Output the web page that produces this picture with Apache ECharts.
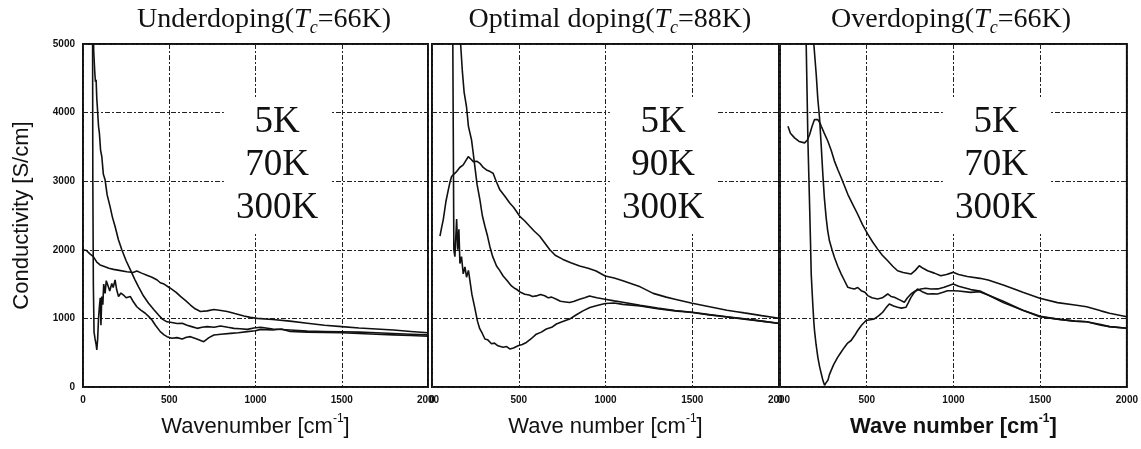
<!DOCTYPE html>
<html>
<head>
<meta charset="utf-8">
<script src="https://cdn.jsdelivr.net/npm/echarts@6/dist/echarts.min.js"></script>
<style>html,body{margin:0;padding:0;background:#fff}#c{width:1141px;height:449px}</style>
</head>
<body>
<div id="c"></div>
<script>
// ---------- DATA (wavenumber cm^-1, conductivity S/cm) ----------
const xTicks = [0, 500, 1000, 1500, 2000];
const yTicks = [0, 1000, 2000, 3000, 4000, 5000];
const panelTitles = ['Underdoping', 'Optimal doping', 'Overdoping'];
const panelTc = ['66K', '88K', '66K'];
const panelTemps = [['5K', '70K', '300K'], ['5K', '90K', '300K'], ['5K', '70K', '300K']];
const xAxisNames = ['Wavenumber', 'Wave number', 'Wave number'];

const under_5K = [[55,6000],[57,3000],[60,1500],[64,800],[70,700],[76,620],[80,540],[85,700],[90,1000],[95,1170],[100,1300],[104,900],[109,1320],[115,1200],[120,1500],[128,1365],[135,1550],[147,1463],[155,1400],[167,1510],[175,1450],[186,1560],[195,1420],[206,1320],[220,1370],[235,1340],[250,1300],[274,1320],[290,1250],[312,1170],[335,1120],[361,1075],[380,1030],[400,977],[420,900],[448,807],[470,760],[487,734],[515,710],[545,720],[575,700],[600,725],[623,734],[660,700],[700,660],[730,720],[759,758],[800,770],[855,782],[900,790],[953,807],[1000,820],[1030,840],[1100,830],[1150,845],[1200,810],[1300,800],[1400,795],[1500,790],[1600,780],[1700,770],[1800,760],[1900,750],[2000,740]];
const under_70K = [[58,5600],[62,4900],[68,4600],[72,4450],[76,4480],[80,4200],[83,4090],[90,3800],[95,3700],[102,3450],[109,3360],[118,3100],[128,3020],[140,2800],[157,2630],[170,2480],[186,2340],[205,2150],[225,2000],[250,1840],[274,1710],[300,1570],[322,1460],[350,1330],[380,1220],[410,1130],[438,1050],[460,990],[487,950],[515,940],[545,925],[575,930],[603,900],[630,880],[662,855],[690,870],[720,880],[760,870],[797,890],[840,870],[875,855],[910,850],[953,840],[990,860],[1030,870],[1100,845],[1200,830],[1300,815],[1400,810],[1500,805],[1600,800],[1700,790],[1800,780],[1900,770],[2000,760]];
const under_300K = [[0,2000],[20,1990],[40,1940],[60,1900],[80,1820],[99,1780],[120,1760],[150,1730],[177,1715],[210,1700],[254,1680],[290,1670],[312,1690],[340,1660],[370,1630],[400,1600],[430,1560],[448,1520],[470,1500],[506,1440],[540,1380],[565,1320],[595,1260],[623,1195],[650,1140],[681,1100],[720,1110],[759,1130],[800,1115],[836,1100],[880,1070],[933,1035],[970,1015],[1010,1000],[1100,985],[1200,960],[1300,930],[1400,900],[1500,880],[1600,860],[1700,845],[1800,830],[1900,810],[2000,790]];

const opt_5K = [[118,6000],[122,4000],[126,2000],[132,1900],[142,2450],[148,2000],[155,2300],[161,1800],[170,1900],[180,1650],[190,1750],[199,1600],[210,1700],[218,1560],[230,1350],[247,1150],[262,960],[275,850],[290,780],[305,700],[320,690],[343,630],[360,640],[380,600],[391,604],[410,580],[430,590],[448,555],[470,570],[496,600],[520,620],[544,650],[570,700],[601,770],[630,800],[659,845],[690,870],[717,918],[750,950],[793,990],[830,1050],[870,1110],[910,1160],[946,1185],[998,1217],[1050,1225],[1100,1205],[1200,1180],[1300,1140],[1400,1110],[1500,1085],[1600,1050],[1700,1020],[1800,990],[1900,960],[2000,930]];
const opt_90K = [[160,6000],[165,5000],[175,4600],[185,4300],[199,4082],[210,3800],[228,3600],[238,3400],[247,3213],[260,2950],[276,2730],[290,2500],[305,2343],[320,2200],[333,2053],[350,1900],[372,1763],[390,1700],[410,1618],[430,1560],[458,1473],[475,1440],[487,1425],[510,1380],[535,1353],[560,1340],[580,1320],[601,1328],[625,1350],[650,1330],[670,1300],[690,1310],[717,1280],[740,1250],[770,1240],[793,1232],[820,1250],[851,1280],[880,1300],[908,1328],[950,1300],[998,1280],[1050,1255],[1100,1235],[1200,1190],[1300,1150],[1400,1115],[1500,1090],[1600,1055],[1700,1025],[1800,995],[1900,960],[2000,925]];
const opt_300K = [[46,2200],[55,2320],[65,2440],[80,2700],[94,2874],[105,3000],[113,3068],[125,3100],[142,3140],[160,3200],[180,3237],[195,3300],[209,3357],[225,3320],[238,3285],[260,3290],[276,3261],[295,3200],[314,3164],[335,3140],[352,3116],[370,3000],[391,2874],[420,2780],[448,2681],[470,2620],[506,2488],[535,2420],[563,2343],[590,2270],[621,2198],[650,2100],[678,2005],[710,1920],[755,1860],[800,1810],[851,1763],[900,1730],[946,1691],[998,1618],[1050,1590],[1100,1550],[1200,1460],[1275,1365],[1350,1310],[1400,1280],[1500,1220],[1600,1170],[1700,1120],[1756,1098],[1800,1080],[1900,1040],[2000,1001]];

const over_5K = [[148,6000],[151,5000],[156,4300],[161,3583],[166,3100],[171,2615],[176,2100],[180,1646],[185,1400],[190,1162],[195,950],[199,823],[208,620],[218,436],[228,300],[238,194],[248,90],[257,24],[265,60],[276,97],[285,180],[295,242],[310,330],[333,436],[350,500],[372,581],[390,640],[410,678],[430,750],[448,823],[470,900],[496,969],[520,980],[544,993],[570,1040],[592,1090],[610,1150],[630,1211],[655,1180],[678,1162],[700,1150],[726,1162],[740,1230],[755,1307],[775,1380],[793,1429],[820,1390],[851,1356],[880,1360],[908,1356],[940,1380],[966,1404],[998,1404],[1030,1400],[1100,1380],[1150,1390],[1200,1340],[1287,1230],[1400,1120],[1500,1030],[1600,990],[1700,960],[1768,952],[1850,910],[1900,880],[2000,856]];
const over_70K = [[190,6000],[195,5000],[209,4552],[218,4200],[228,3922],[238,3500],[247,3099],[256,2750],[266,2470],[275,2280],[285,2131],[300,2000],[314,1889],[333,1760],[353,1646],[370,1560],[391,1453],[410,1440],[429,1429],[448,1450],[468,1404],[490,1380],[506,1332],[530,1300],[563,1283],[590,1300],[621,1356],[640,1320],[659,1307],[690,1270],[717,1235],[735,1300],[755,1356],[780,1400],[812,1429],[840,1440],[870,1429],[910,1430],[946,1453],[975,1480],[998,1501],[1030,1470],[1100,1420],[1153,1400],[1200,1340],[1287,1250],[1400,1120],[1498,1025],[1600,990],[1700,960],[1768,952],[1850,900],[1900,880],[2000,856]];
const over_300K = [[46,3801],[60,3700],[84,3632],[110,3580],[142,3559],[158,3600],[171,3680],[185,3800],[199,3898],[210,3920],[218,3898],[230,3850],[238,3801],[255,3700],[276,3583],[295,3450],[314,3293],[333,3170],[353,3051],[372,2930],[391,2809],[420,2660],[448,2518],[475,2370],[506,2228],[535,2110],[563,2010],[590,1920],[621,1840],[650,1760],[678,1695],[710,1670],[755,1646],[780,1700],[803,1768],[825,1730],[851,1695],[890,1660],[927,1622],[960,1640],[998,1671],[1030,1640],[1080,1610],[1153,1584],[1200,1560],[1287,1487],[1350,1430],[1400,1380],[1498,1293],[1600,1230],[1700,1195],[1768,1171],[1850,1110],[1900,1075],[2000,1025]];

const panelSeries = [[under_5K, under_70K, under_300K], [opt_5K, opt_90K, opt_300K], [over_5K, over_70K, over_300K]];

// ---------- LAYOUT ----------
const gridBoxes = [
  {left: 83, top: 44, width: 345, height: 343},
  {left: 432, top: 44, width: 347, height: 343},
  {left: 780, top: 44, width: 347, height: 343}
];
const titleCenters = [264, 610, 951];
const labelCenters = [265, 651, 984];
const serif = '"Liberation Serif", "Times New Roman", serif';
const sans = '"Liberation Sans", Arial, sans-serif';
const ink = '#111';

const chart = echarts.init(document.getElementById('c'), null, {renderer: 'canvas'});

const grid = gridBoxes.map(g => Object.assign({show: true, borderColor: ink, borderWidth: 2, backgroundColor: 'transparent'}, g));

const gridLine = {show: true, lineStyle: {color: '#222', width: 1, type: [5, 2, 2, 2]}};
const plainNum = v => String(v);

const xAxis = gridBoxes.map((g, i) => ({
  type: 'value', gridIndex: i, min: xTicks[0], max: xTicks[xTicks.length - 1], interval: xTicks[1] - xTicks[0],
  axisLine: {show: false}, axisTick: {show: false}, splitLine: gridLine,
  axisLabel: {color: ink, fontFamily: sans, fontSize: 10, fontWeight: 'bold', margin: 8, formatter: plainNum},
  name: xAxisNames[i] + ' [cm{sup|-1}]', nameLocation: 'middle', nameGap: 26,
  nameTextStyle: {color: ink, fontFamily: sans, fontSize: 22, fontWeight: i === 2 ? 'bold' : 'normal',
    rich: {sup: {fontFamily: sans, fontSize: 12, fontWeight: i === 2 ? 'bold' : 'normal', color: ink, padding: [0, 0, 16, 0]}}}
}));

const yAxis = gridBoxes.map((g, i) => ({
  type: 'value', gridIndex: i, min: yTicks[0], max: yTicks[yTicks.length - 1], interval: yTicks[1] - yTicks[0],
  axisLine: {show: false}, axisTick: {show: false}, splitLine: gridLine,
  axisLabel: {show: i === 0, color: ink, fontFamily: sans, fontSize: 10, fontWeight: 'bold', margin: 8, formatter: plainNum},
  name: i === 0 ? 'Conductivity [S/cm]' : '', nameLocation: 'middle', nameGap: 50, nameRotate: 90,
  nameTextStyle: {color: ink, fontFamily: sans, fontSize: 22}
}));

const series = [];
panelSeries.forEach((list, i) => {
  list.forEach((data, k) => {
    series.push({
      type: 'line', name: panelTemps[i][k], xAxisIndex: i, yAxisIndex: i, data: data,
      showSymbol: false, symbol: 'none', clip: true, silent: true,
      lineStyle: {color: ink, width: 1.6}
    });
  });
});

const titles = [];
panelTitles.forEach((t, i) => {
  titles.push({
    text: '{n|' + t + '(}{i|T}{s|c}{n|=' + panelTc[i] + ')}',
    left: titleCenters[i], top: 2, textAlign: 'center', padding: 0,
    textStyle: {
      fontWeight: 'normal',
      rich: {
        n: {fontFamily: serif, fontSize: 28, fontWeight: 'normal', color: ink, lineHeight: 36},
        i: {fontFamily: serif, fontSize: 28, fontWeight: 'normal', fontStyle: 'italic', color: ink, lineHeight: 36},
        s: {fontFamily: serif, fontSize: 18, fontWeight: 'normal', fontStyle: 'italic', color: ink, padding: [16, 0, 0, 0]}
      }
    }
  });
  titles.push({
    text: panelTemps[i].join('\n'),
    left: labelCenters[i], top: 97, textAlign: 'center', backgroundColor: '#fff', padding: [4, 12, 4, 12],
    textStyle: {fontFamily: serif, fontSize: 37, fontWeight: 'normal', color: ink, lineHeight: 43}
  });
});

chart.setOption({
  animation: false,
  backgroundColor: '#fff',
  title: titles,
  grid: grid,
  xAxis: xAxis,
  yAxis: yAxis,
  series: series
});
</script>
</body>
</html>
